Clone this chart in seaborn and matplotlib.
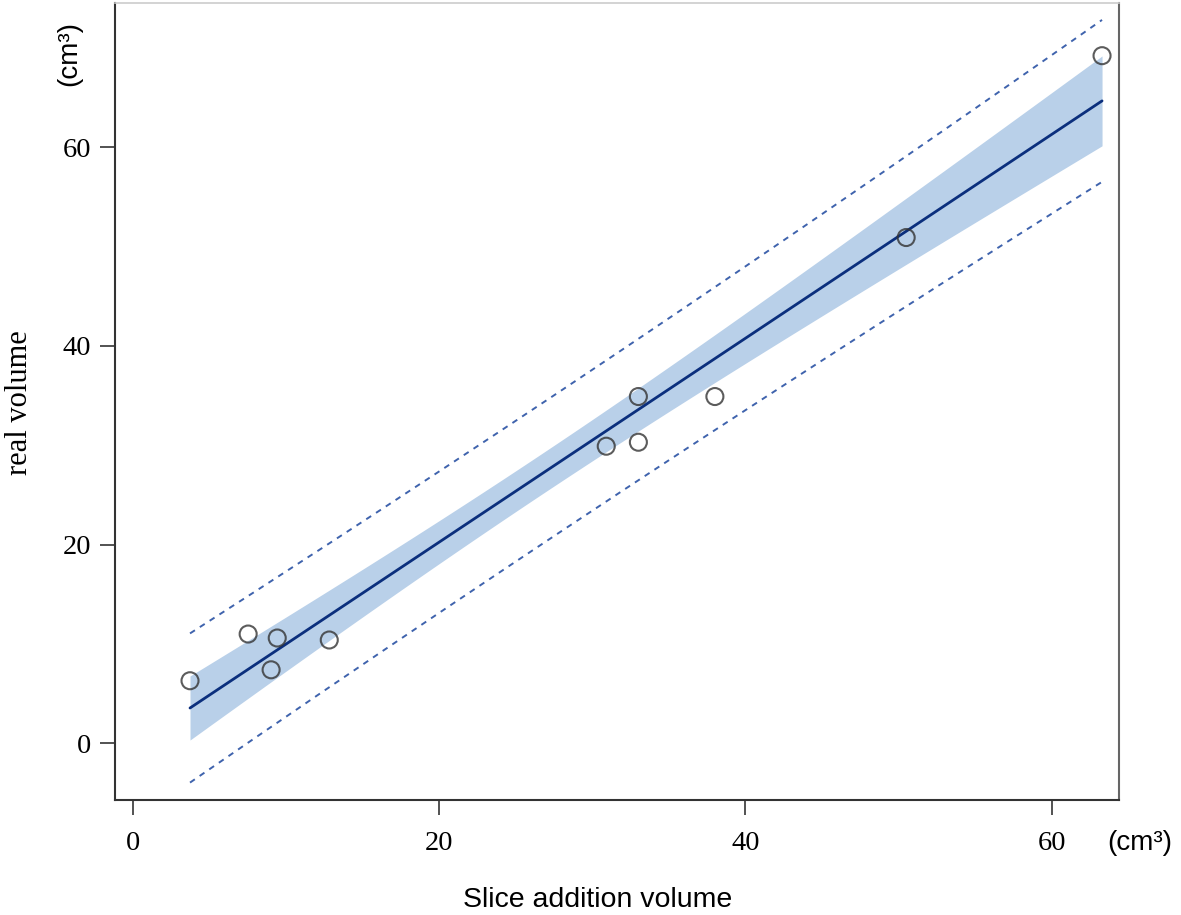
import matplotlib
matplotlib.use("Agg")
import matplotlib.pyplot as plt
import seaborn as sns
import numpy as np
import pandas as pd

# values
slice_volume = [3.7, 7.5, 9.0, 9.4, 12.8, 30.9, 33.0, 33.0, 38.0, 50.5, 63.3]
real_volume = [6.3, 11.0, 7.4, 10.6, 10.4, 29.9, 34.9, 30.3, 34.9, 50.9, 69.2]
x_ticks = [0, 20, 40, 60]
y_ticks = [0, 20, 40, 60]

band_color = "#b9d0e9"
line_color = "#0b2f7d"
pi_color = "#3f63ad"

df = pd.DataFrame({"slice": slice_volume, "real": real_volume})

sns.set_style("white")
plt.rcParams["font.family"] = ["Liberation Serif", "DejaVu Serif"]
plt.rcParams["text.color"] = "black"
plt.rcParams["xtick.labelcolor"] = "black"
plt.rcParams["ytick.labelcolor"] = "black"

fig = plt.figure(figsize=(11.81, 9.15), dpi=100)
ax = fig.add_axes([0.0974, 0.1257, 0.850, 0.871])

# analytical 95% confidence and prediction intervals
x = df["slice"].to_numpy()
y = df["real"].to_numpy()
n = len(x)
b1, b0 = np.polyfit(x, y, 1)
resid = y - (b0 + b1 * x)
s = np.sqrt(np.sum(resid ** 2) / (n - 2))
t_crit = 2.262  # t(0.975, df=9)
sxx = np.sum((x - x.mean()) ** 2)
xg = np.linspace(x.min(), x.max(), 200)
yg = b0 + b1 * xg
se_fit = s * np.sqrt(1 / n + (xg - x.mean()) ** 2 / sxx)
se_pred = s * np.sqrt(1 + 1 / n + (xg - x.mean()) ** 2 / sxx)

ax.fill_between(xg, yg - t_crit * se_fit, yg + t_crit * se_fit,
                color=band_color, lw=0, zorder=1)
ax.plot(xg, yg + t_crit * se_pred, ls=(0, (3, 3)), color=pi_color, lw=1.4, zorder=2)
ax.plot(xg, yg - t_crit * se_pred, ls=(0, (3, 3)), color=pi_color, lw=1.4, zorder=2)

sns.regplot(data=df, x="slice", y="real", ax=ax, ci=None,
            scatter_kws=dict(s=150, facecolors="none", edgecolors="#333333",
                             linewidths=1.5, zorder=4),
            line_kws=dict(color=line_color, lw=2, zorder=3))

ax.set_xlim(-1.2, 64.4)
ax.set_ylim(-5.7, 74.5)
ax.set_xticks(x_ticks)
ax.set_yticks(y_ticks)
ax.set_xlabel("")
ax.set_ylabel("")
ax.tick_params(axis="both", direction="out", length=11, width=1.3,
               color="#444444", labelsize=20.5, bottom=True, left=True)
ax.tick_params(axis="x", pad=11)
ax.tick_params(axis="y", pad=6)

for side in ["left", "bottom"]:
    ax.spines[side].set_color("#333333")
    ax.spines[side].set_linewidth(1.5)
ax.spines["top"].set_color("#cccccc")
ax.spines["top"].set_linewidth(1.2)
ax.spines["right"].set_color("#666666")
ax.spines["right"].set_linewidth(1.5)

sans = ["Liberation Sans", "DejaVu Sans"]
fig.text(20 / 1181, 1 - 403 / 915, "real volume", rotation=90,
         ha="center", va="center", fontsize=22)
fig.text(69 / 1181, 1 - 53 / 915, "(cm³)", rotation=90, ha="center",
         va="center", fontsize=20, family=sans)
fig.text(598 / 1181, 1 - 900 / 915, "Slice addition volume", ha="center",
         va="center", fontsize=20.5, family=sans)
fig.text(1140 / 1181, 1 - 843 / 915, "(cm³)", ha="center", va="center",
         fontsize=20, family=sans)

fig.savefig("out.png", dpi=100)
